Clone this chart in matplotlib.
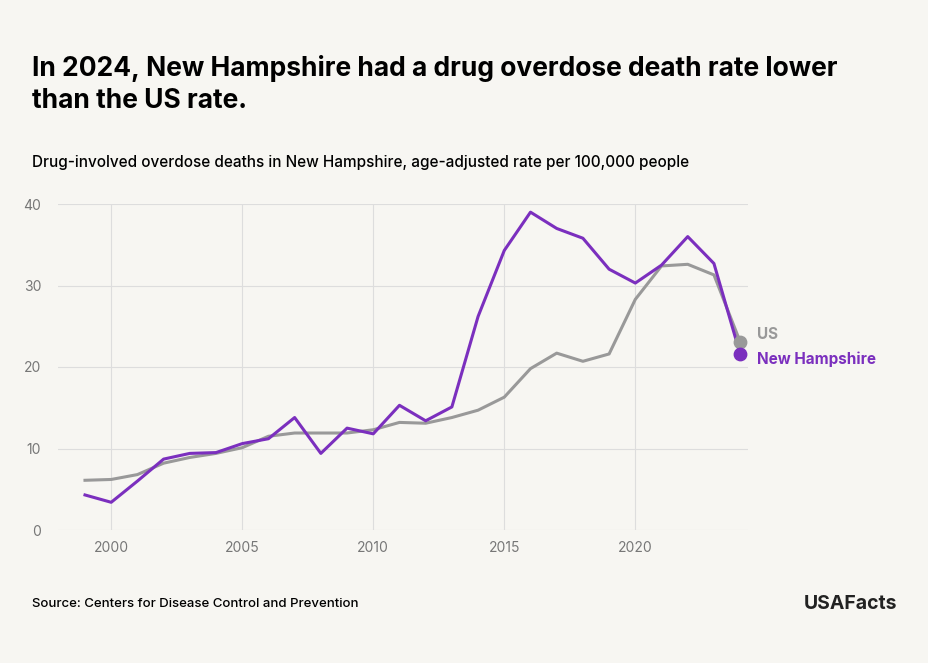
import matplotlib.pyplot as plt

years = list(range(1999, 2025))
nh = [4.3, 3.4, 6.0, 8.7, 9.4, 9.5, 10.6, 11.2, 13.8, 9.4, 12.5, 11.8, 15.3, 13.4,
      15.1, 26.2, 34.3, 39.0, 37.0, 35.8, 32.0, 30.3, 32.5, 36.0, 32.7, 21.6]
us = [6.1, 6.2, 6.8, 8.2, 8.9, 9.4, 10.1, 11.5, 11.9, 11.9, 11.9, 12.3, 13.2, 13.1,
      13.8, 14.7, 16.3, 19.8, 21.7, 20.7, 21.6, 28.3, 32.4, 32.6, 31.3, 23.1]

bg = '#F7F6F2'
purple = '#7B2FBE'
gray = '#999999'
plt.rcParams['font.family'] = ['Inter', 'DejaVu Sans']

fig = plt.figure(figsize=(9.29, 6.63), dpi=100, facecolor=bg)
ax = fig.add_axes([58/929, 1 - 530/663, (748-58)/929, (530-204)/663], facecolor=bg)

ax.plot(years, us, color=gray, lw=2.2)
ax.plot(years, nh, color=purple, lw=2.2)
ax.scatter([years[-1]], [us[-1]], color=gray, s=80, zorder=5, clip_on=False)
ax.scatter([years[-1]], [nh[-1]], color=purple, s=80, zorder=5, clip_on=False)
ax.text(years[-1] + 0.65, us[-1] + 0.9, 'US', color=gray, fontsize=11, fontweight='bold', va='center')
ax.text(years[-1] + 0.65, nh[-1] - 0.6, 'New Hampshire', color=purple, fontsize=11, fontweight='bold', va='center')

ax.set_xlim(1997.97, 2024.3)
ax.set_ylim(0, 40)
ax.set_xticks([2000, 2005, 2010, 2015, 2020])
ax.set_yticks([0, 10, 20, 30, 40])
ax.grid(True, color='#DDDDDD', lw=0.8)
ax.set_axisbelow(True)
for s in ax.spines.values():
    s.set_visible(False)
ax.tick_params(length=0, colors='#777777', labelsize=10)
ax.tick_params(axis='y', pad=12)
ax.tick_params(axis='x', pad=8)

fig.text(32/929, 1 - 85/663, 'In 2024, New Hampshire had a drug overdose death rate lower\nthan the US rate.',
         fontsize=19, fontweight='bold', va='center', linespacing=1.3)
fig.text(32/929, 1 - 163/663, 'Drug-involved overdose deaths in New Hampshire, age-adjusted rate per 100,000 people',
         fontsize=11, fontweight='medium', va='center')
fig.text(32/929, 1 - 604/663, 'Source: Centers for Disease Control and Prevention', fontsize=9.5,
         fontweight='medium', va='center')
fig.text(897/929, 1 - 604/663, 'USAFacts', fontsize=14, fontweight='bold', ha='right', va='center', color='#222222')

fig.savefig('out.png', dpi=100, facecolor=bg)
